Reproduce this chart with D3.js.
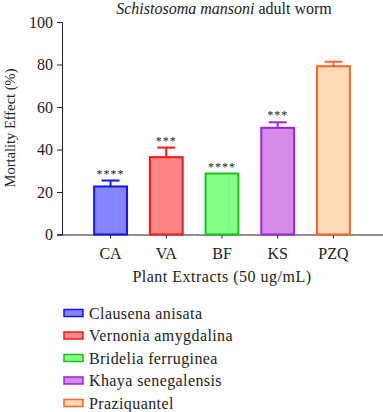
<!DOCTYPE html>
<html>
<head>
<meta charset="utf-8">
<script src="https://cdn.jsdelivr.net/npm/d3@7"></script>
<style>
  body { margin: 0; background: #fff; }
  text { font-family: "Liberation Serif", "DejaVu Serif", serif; fill: #222; }
</style>
</head>
<body>
<div id="chart"></div>
<script>
var groups = ["CA", "VA", "BF", "KS", "PZQ"]
var names = ["Clausena anisata", "Vernonia amygdalina", "Bridelia ferruginea", "Khaya senegalensis", "Praziquantel"]
var means = [22.6, 36.4, 28.7, 50.2, 79.2]
var errs = [2.8, 4.5, 0, 2.6, 2.1]
var stars = ["****", "***", "****", "***", ""]
var fills = ["#8585ff", "#ff8585", "#85ff85", "#d68ae8", "#ffdab9"]
var strokes = ["#1515f0", "#f01818", "#18c018", "#9a22e0", "#ff6428"]
var yTicks = [0, 20, 40, 60, 80, 100]

var width = 383, height = 412
var svg = d3.select("#chart").append("svg")
    .attr("width", width)
    .attr("height", height)

var x = d3.scaleBand().domain(groups).range([82, 362]).paddingInner(0.375).paddingOuter(0.2)
var y = d3.scaleLinear().domain([0, 100]).range([234.5, 22])

// y axis
var yAxis = svg.append("g")
    .attr("transform", "translate(62,0)")
    .call(d3.axisLeft(y).tickValues(yTicks).tickSize(5).tickPadding(4))
yAxis.selectAll("text").style("font-size", "16px")
yAxis.select(".domain").attr("stroke", "#222")
yAxis.selectAll("line").attr("stroke", "#222")

// x axis
var xAxis = svg.append("g")
    .attr("transform", "translate(0,234.5)")
    .call(d3.axisBottom(x).tickSize(4).tickPadding(9).tickSizeOuter(0))
xAxis.select(".domain").attr("d", "M58,0.5H383").attr("stroke", "#222")
xAxis.selectAll("text").style("font-size", "16px")
xAxis.selectAll("line").attr("stroke", "#222")

// bars
svg.selectAll("rect.bar")
    .data(groups)
    .enter().append("rect")
    .attr("class", "bar")
    .attr("x", function (d) { return x(d) + 1 })
    .attr("width", x.bandwidth() - 2)
    .attr("y", function (d, i) { return y(means[i]) })
    .attr("height", function (d, i) { return y(0) - y(means[i]) })
    .attr("fill", function (d, i) { return fills[i] })
    .attr("stroke", function (d, i) { return strokes[i] })
    .attr("stroke-width", 2)

// error bars
groups.forEach(function (g, i) {
    if (!errs[i]) return
    var cx = x(g) + x.bandwidth() / 2
    var top = y(means[i] + errs[i])
    svg.append("line")
        .attr("x1", cx).attr("x2", cx)
        .attr("y1", y(means[i])).attr("y2", top)
        .attr("stroke", strokes[i]).attr("stroke-width", 2)
    svg.append("line")
        .attr("x1", cx - 9).attr("x2", cx + 9)
        .attr("y1", top).attr("y2", top)
        .attr("stroke", strokes[i]).attr("stroke-width", 2)
})

// significance stars
svg.selectAll("text.star")
    .data(groups)
    .enter().append("text")
    .attr("class", "star")
    .attr("x", function (d) { return x(d) + x.bandwidth() / 2 })
    .attr("y", function (d, i) { return y(means[i] + errs[i]) - 3 })
    .attr("text-anchor", "middle")
    .style("font-size", "12px")
    .style("letter-spacing", "1px")
    .text(function (d, i) { return stars[i] })

// titles
var title = svg.append("text")
    .attr("x", 224).attr("y", 14)
    .attr("text-anchor", "middle")
    .style("font-size", "16px")
title.append("tspan").style("font-style", "italic").text("Schistosoma mansoni")
title.append("tspan").text(" adult worm")

svg.append("text")
    .attr("x", 222).attr("y", 282)
    .attr("text-anchor", "middle")
    .style("font-size", "16px")
    .style("letter-spacing", "0.5px")
    .text("Plant Extracts (50 ug/mL)")

svg.append("text")
    .attr("transform", "translate(15,128) rotate(-90)")
    .attr("text-anchor", "middle")
    .style("font-size", "14.5px")
    .text("Mortality Effect (%)")

// legend
var legend = svg.selectAll("g.legend")
    .data(names)
    .enter().append("g")
    .attr("class", "legend")
    .attr("transform", function (d, i) { return "translate(64," + (313 + i * 22.5) + ")" })
legend.append("rect")
    .attr("x", 0).attr("y", -3.5)
    .attr("width", 19).attr("height", 7)
    .attr("fill", function (d, i) { return fills[i] })
    .attr("stroke", function (d, i) { return strokes[i] })
    .attr("stroke-width", 1.5)
legend.append("text")
    .attr("x", 25).attr("y", 5.5)
    .style("font-size", "16px")
    .style("letter-spacing", "0.4px")
    .text(function (d) { return d })
</script>
</body>
</html>
